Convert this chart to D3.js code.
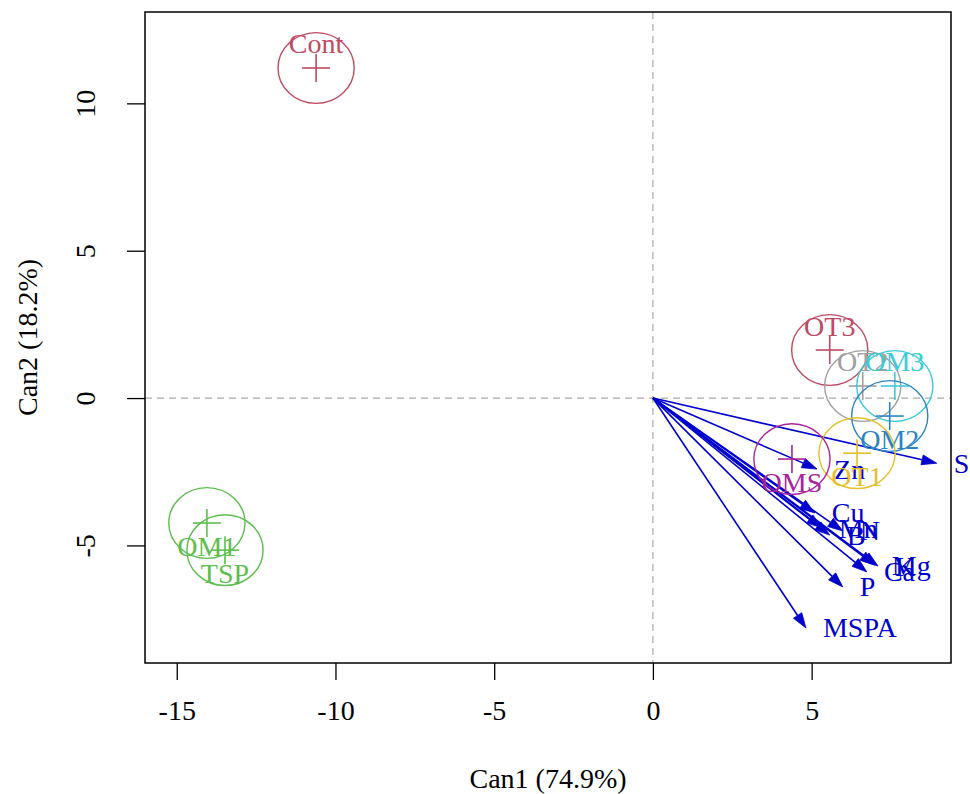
<!DOCTYPE html>
<html>
<head>
<meta charset="utf-8">
<script src="https://cdn.jsdelivr.net/npm/d3@7/dist/d3.min.js"></script>
<style>
  html, body { margin: 0; padding: 0; background: #fff; }
  svg { display: block; }
  text { font-family: "Liberation Serif", "Times New Roman", serif; }
</style>
</head>
<body>
<svg id="chart" width="970" height="794"></svg>
<script>
// Canonical discriminant scores: group means on Can1 / Can2
const groupNames = ["Cont", "OT3", "OT2", "OM3", "OM2", "OT1", "OMS", "OM1", "TSP"];
const groupCan1 = [-10.61, 5.57, 6.61, 7.62, 7.46, 6.43, 4.38, -14.05, -13.48];
const groupCan2 = [11.20, 1.63, 0.41, 0.41, -0.61, -1.87, -2.07, -4.24, -5.16];
const groupColors = ["#BF4A63", "#BF4A63", "#A0A0A0", "#3CCAD8", "#2A85C4", "#E5BF2A", "#A8239C", "#5DBE4E", "#5DBE4E"];
const circleRadius = 1.2;

// Structure-coefficient vectors for the response variables
const varNames = ["S", "Zn", "Cu", "Mn", "B", "N", "Ca", "K", "Mg", "P", "MSPA"];
const varCan1 = [8.94, 5.17, 5.10, 5.32, 5.57, 5.98, 6.74, 7.09, 6.99, 5.98, 4.82];
const varCan2 = [-2.21, -2.41, -3.90, -4.41, -4.65, -4.51, -5.90, -5.70, -5.67, -6.41, -7.80];

const xTicks = [-15, -10, -5, 0, 5];
const yTicks = [-5, 0, 5, 10];
const xTitle = "Can1 (74.9%)";
const yTitle = "Can2 (18.2%)";

const svg = d3.select("#chart");
const plotLeft = 145, plotRight = 951, plotTop = 12, plotBottom = 663;

const x = d3.scaleLinear().domain([-16.0, 9.39]).range([plotLeft, plotRight]);
const y = d3.scaleLinear().domain([-8.99, 13.1]).range([plotBottom, plotTop]);

const fontSize = 28;
const minus = d => d < 0 ? "-" + Math.abs(d) : String(d);

// reference lines through the origin
svg.append("line")
  .attr("x1", x(0)).attr("x2", x(0)).attr("y1", plotTop).attr("y2", plotBottom)
  .attr("stroke", "#aaa").attr("stroke-width", 1.2).attr("stroke-dasharray", "7,5");
svg.append("line")
  .attr("x1", plotLeft).attr("x2", plotRight).attr("y1", y(0)).attr("y2", y(0))
  .attr("stroke", "#aaa").attr("stroke-width", 1.2).attr("stroke-dasharray", "7,5");

// axes
const xAxis = d3.axisBottom(x).tickValues(xTicks).tickSize(17).tickPadding(20).tickFormat(minus);
const gx = svg.append("g").attr("transform", `translate(0,${plotBottom})`).call(xAxis);
gx.select(".domain").remove();
gx.selectAll("line").attr("stroke", "#000").attr("stroke-width", 1.3);
gx.selectAll("text").attr("font-size", fontSize).attr("font-family", "Liberation Serif").attr("fill", "#000");

const yAxis = d3.axisLeft(y).tickValues(yTicks).tickSize(18).tickFormat(minus);
const gy = svg.append("g").attr("transform", `translate(${plotLeft},0)`).call(yAxis);
gy.select(".domain").remove();
gy.selectAll("line").attr("stroke", "#000").attr("stroke-width", 1.3);
gy.selectAll("text")
  .attr("font-size", fontSize).attr("font-family", "Liberation Serif").attr("fill", "#000")
  .attr("x", null).attr("dy", null)
  .attr("text-anchor", "middle").attr("dominant-baseline", "central")
  .attr("transform", "translate(-60,0) rotate(-90)");

// axis titles
svg.append("text").attr("x", (plotLeft + plotRight) / 2).attr("y", 778)
  .attr("text-anchor", "middle").attr("dominant-baseline", "central")
  .attr("font-size", fontSize).text(xTitle);
svg.append("text")
  .attr("transform", `translate(27,${(plotTop + plotBottom) / 2}) rotate(-90)`)
  .attr("text-anchor", "middle").attr("dominant-baseline", "central")
  .attr("font-size", fontSize).text(yTitle);

// variable vectors
const arrowColor = "#0000CD";
const ox = x(0), oy = y(0);
const vars = varNames.map((n, i) => ({ name: n, c1: varCan1[i], c2: varCan2[i] }));
const vg = svg.append("g");
vars.forEach(v => {
  const tx = x(v.c1), ty = y(v.c2);
  const ang = Math.atan2(ty - oy, tx - ox);
  const len = 15, hw = 5;
  const bx = tx - len * Math.cos(ang), by = ty - len * Math.sin(ang);
  vg.append("line").attr("x1", ox).attr("y1", oy).attr("x2", bx).attr("y2", by)
    .attr("stroke", arrowColor).attr("stroke-width", 1.6);
  const p1 = [bx + hw * Math.sin(ang), by - hw * Math.cos(ang)];
  const p2 = [bx - hw * Math.sin(ang), by + hw * Math.cos(ang)];
  vg.append("path").attr("d", `M${tx},${ty}L${p1[0]},${p1[1]}L${p2[0]},${p2[1]}Z`)
    .attr("fill", arrowColor).attr("stroke", arrowColor).attr("stroke-width", 0.8);
});
vg.selectAll("text.var").data(vars).join("text").attr("class", "var")
  .attr("x", d => x(d.c1) + 17).attr("y", d => y(d.c2))
  .attr("text-anchor", "start").attr("dominant-baseline", "central")
  .attr("font-size", fontSize).attr("fill", arrowColor)
  .text(d => d.name);

// group means: circle, cross and label
const groups = groupNames.map((n, i) => ({ name: n, c1: groupCan1[i], c2: groupCan2[i], col: groupColors[i] }));
const gg = svg.append("g");
const rx = x(circleRadius) - x(0), ry = y(0) - y(circleRadius);
groups.forEach(g => {
  const cx = x(g.c1), cy = y(g.c2);
  gg.append("ellipse").attr("cx", cx).attr("cy", cy).attr("rx", rx).attr("ry", ry)
    .attr("fill", "none").attr("stroke", g.col).attr("stroke-width", 1.4);
  gg.append("line").attr("x1", cx - 14).attr("x2", cx + 14).attr("y1", cy).attr("y2", cy)
    .attr("stroke", g.col).attr("stroke-width", 1.6);
  gg.append("line").attr("x1", cx).attr("x2", cx).attr("y1", cy - 14).attr("y2", cy + 14)
    .attr("stroke", g.col).attr("stroke-width", 1.6);
  gg.append("text").attr("x", cx).attr("y", g.c2 > 0 ? cy - 24 : cy + 23)
    .attr("text-anchor", "middle").attr("dominant-baseline", "central")
    .attr("font-size", fontSize).attr("fill", g.col).text(g.name);
});

// plot frame
svg.append("rect").attr("x", plotLeft).attr("y", plotTop)
  .attr("width", plotRight - plotLeft).attr("height", plotBottom - plotTop)
  .attr("fill", "none").attr("stroke", "#000").attr("stroke-width", 1.5);
</script>
</body>
</html>
